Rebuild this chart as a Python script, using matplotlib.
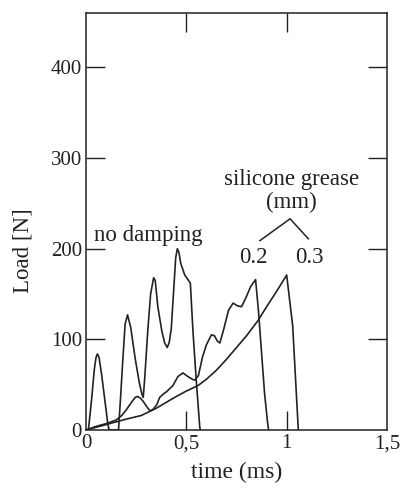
import matplotlib
matplotlib.use("Agg")
import matplotlib.pyplot as plt

plt.rcParams['font.family'] = ['Liberation Serif', 'DejaVu Serif']

# no damping curve (time ms, load N)
nd_t = [0.0, 0.012, 0.028, 0.042, 0.05, 0.057, 0.065, 0.078, 0.095, 0.108, 0.115,
        0.162, 0.172, 0.182, 0.195, 0.207, 0.223, 0.245, 0.265, 0.278, 0.285,
        0.292, 0.308, 0.322, 0.337, 0.345, 0.358, 0.378, 0.392, 0.405, 0.415,
        0.425, 0.438, 0.447, 0.455, 0.463, 0.472, 0.492, 0.508, 0.52, 0.533,
        0.55, 0.567, 0.57]
nd_load = [0, 0, 34, 68, 80, 84, 80, 61, 31, 8, 0,
           0, 35, 72, 117, 127, 113, 79, 53, 40, 36,
           55, 110, 150, 168, 165, 136, 109, 96, 91, 97,
           112, 158, 190, 200, 196, 184, 171, 166, 162, 109,
           53, 3, 0]

# silicone grease 0.2 mm
g2_t = [0.0, 0.05, 0.10, 0.15, 0.178, 0.20, 0.228, 0.245, 0.258, 0.272, 0.287,
        0.305, 0.32, 0.335, 0.353, 0.367, 0.387, 0.40, 0.433, 0.458, 0.483,
        0.508, 0.53, 0.542, 0.56, 0.58, 0.60, 0.625, 0.64, 0.655, 0.667, 0.685,
        0.71, 0.733, 0.755, 0.775, 0.795, 0.82, 0.845, 0.86, 0.875, 0.89,
        0.905, 0.91]
g2_load = [0, 4, 7, 11, 16, 22, 31, 36, 37, 35, 31,
           25, 21, 23, 28, 36, 40, 42, 49, 59, 63,
           59, 56, 55, 60, 80, 94, 105, 104, 98, 96, 110,
           132, 140, 137, 136, 145, 158, 166, 130, 85, 40,
           8, 0]

# silicone grease 0.3 mm
g3_t = [0.0, 0.1, 0.2, 0.275, 0.35, 0.442, 0.5, 0.558, 0.6, 0.65, 0.7, 0.75,
        0.8, 0.858, 0.9, 0.95, 1.0, 1.03, 1.058]
g3_load = [0, 6, 12, 16, 24, 36, 43, 49, 56, 66, 78, 91,
           104, 121, 136, 153, 171, 115, 0]

x_ticks = [0, 0.5, 1, 1.5]
x_labels = ["0", "0,5", "1", "1,5"]
y_ticks = [0, 100, 200, 300, 400]

fig = plt.figure(figsize=(4, 4.9), dpi=100)
ax = fig.add_axes([0.215, 0.1224, 0.7525, 0.851])

for t, load in [(nd_t, nd_load), (g2_t, g2_load), (g3_t, g3_load)]:
    ax.plot(t, load, color="#222222", lw=1.2, solid_joinstyle="round")

ax.set_xlim(0, 1.5)
ax.set_ylim(0, 460)
ax.set_xticks(x_ticks)
ax.set_xticklabels(x_labels)
ax.set_yticks(y_ticks)
ax.tick_params(direction="in", length=14, width=1.0, labelsize=15,
               top=True, right=True, color="#222222", labelcolor="#222222")
ax.tick_params(axis="x", pad=3)
ax.tick_params(axis="y", pad=3)

# no tick marks at the corners
for tk in (ax.xaxis.get_major_ticks()[0], ax.xaxis.get_major_ticks()[-1],
           ax.yaxis.get_major_ticks()[0]):
    tk.tick1line.set_visible(False)
    tk.tick2line.set_visible(False)

for s in ax.spines.values():
    s.set_linewidth(1.1)
    s.set_color("#222222")

ax.set_xlabel("time (ms)", fontsize=17, color="#222222", labelpad=6)
ax.set_ylabel("Load [N]", fontsize=16.5, color="#222222")
ax.yaxis.set_label_coords(-0.175, 0.43)

ax.text(0.04, 209, "no damping", fontsize=16.5, color="#222222")
ax.text(1.025, 270, "silicone grease", fontsize=16.5, ha="center", color="#222222")
ax.text(1.025, 245, "(mm)", fontsize=16.5, ha="center", color="#222222")
ax.plot([0.867, 1.017, 1.108], [209, 233, 211], color="#222222", lw=1.1)
ax.text(0.835, 184, "0.2", fontsize=16.5, ha="center", color="#222222")
ax.text(1.115, 184, "0.3", fontsize=16.5, ha="center", color="#222222")

fig.savefig("out.png", dpi=100)
